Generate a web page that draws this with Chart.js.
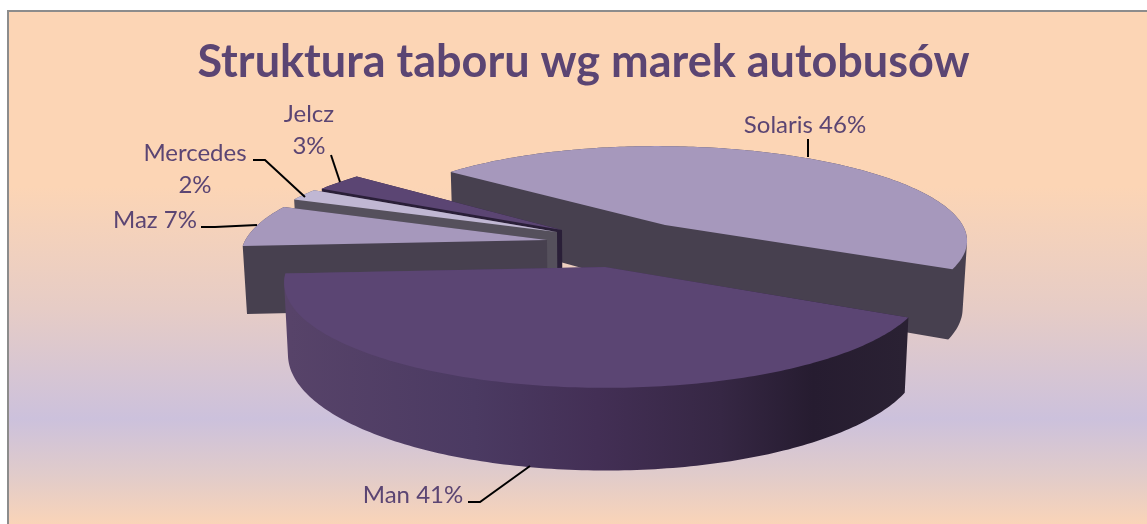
<!DOCTYPE html>
<html>
<head>
<meta charset="utf-8">
<title>Struktura taboru wg marek autobusów</title>
<style>
html, body { margin: 0; padding: 0; background: #fff; overflow: hidden; width: 1147px; height: 524px; }
#frame {
	position: absolute; left: 7px; top: 10px; width: 1160px; height: 514px;
	box-sizing: border-box; border-left: 2px solid #8c8c8c; border-top: 2px solid #8c8c8c;
	background: linear-gradient(180deg, #fcd5b5 0%, #fcd5b5 34%, #e6ccc6 58%, #ccc1dc 79.5%, #e0cbcb 90%, #f9d4b8 100%);
}
#chart { position: absolute; left: 0; top: 0; }
</style>
</head>
<body>
<div id="frame"></div>
<canvas id="chart" width="1167" height="524"></canvas>
<script src="https://cdn.jsdelivr.net/npm/chart.js@4"></script>
<script>
(function (){

var categories = ['Solaris', 'Man', 'Maz', 'Mercedes', 'Jelcz'];
var percents = [46, 41, 7, 2, 3];

var topColors = ['#a698bc', '#5b4573', '#a698bc', '#c0b7d3', '#5b4573'];
var wallColors = ['#47404f', null, '#47404f', '#55505c', '#2a1f38'];
var textColor = '#5b4573';

// projection of the pie plane, fitted by eye
var horizonY = -408;
var vanishX = 600;
var focalY = 4439;
var focalX = 2006;
var flatten = 0.96;
var depthRatio = 0.23;
var wallShrink = 0.988;

// where each exploded slice has its tip, and how big it is
var sliceTips = [[665, 225], [605, 267], [547, 240], [557, 232], [562, 230]];
var sliceRadius = [1.04, 1.04, 1.03, 1.04, 1.03];
var drawOrder = [0, 4, 3, 2, 1];

// label text rows: [x, baseline] per row, rows are broken as in the original
var labelRows = [
	[[805, 133]],
	[[413, 503]],
	[[155, 228]],
	[[195, 161], [195, 193]],
	[[309, 122], [309, 154]]
];
var leaders = [
	[[808, 157], [808, 139]],
	[[468, 502], [480, 502], [530, 466]],
	[[201, 227], [215, 227], [257, 225]],
	[[253, 160], [265, 160], [305, 197]],
	[[331, 155], [340, 182]]
];

function project(index, angle) {
	var tip = sliceTips[index];
	var r = sliceRadius[index];
	var d0 = focalY / (tip[1] - horizonY);
	var x0 = (tip[0] - vanishX) * d0 / focalX;
	var d = d0 - r * flatten * Math.sin(angle);
	return {
		x: vanishX + (x0 + r * Math.cos(angle)) * focalX / d,
		y: horizonY + focalY / d
	};
}

function tipPoint(index) {
	return { x: sliceTips[index][0], y: sliceTips[index][1] };
}

function dropPoint(p) {
	var scale = (p.y - horizonY) * focalX / focalY;
	return {
		x: vanishX + (p.x - vanishX) * wallShrink,
		y: p.y + scale * depthRatio
	};
}

function outline(index, el) {
	var pts = [tipPoint(index)];
	var steps = Math.max(4, Math.ceil((el.endAngle - el.startAngle) * 60));
	for (var i = 0; i <= steps; i++) {
		pts.push(project(index, el.startAngle + (el.endAngle - el.startAngle) * i / steps));
	}
	return pts;
}

function polyArea(q) {
	var sum = 0;
	for (var i = 0, len = q.length; i < len; i++) {
		var n = q[(i + 1) % len];
		sum += q[i].x * n.y - n.x * q[i].y;
	}
	return sum;
}

function addPoly(ctx, q) {
	if (polyArea(q) < 0) {
		q = q.slice().reverse();
	}
	ctx.moveTo(q[0].x, q[0].y);
	for (var i = 1, len = q.length; i < len; i++) {
		ctx.lineTo(q[i].x, q[i].y);
	}
	ctx.closePath();
}

// all quads go in one path with the same winding, so no seams show between them.
// the top face is in there too, or the background bleeds through along its edge
function drawWall(ctx, pts, style) {
	ctx.fillStyle = style;
	ctx.beginPath();
	addPoly(ctx, pts);
	for (var i = 0, len = pts.length; i < len; i++) {
		var a = pts[i];
		var b = pts[(i + 1) % len];
		addPoly(ctx, [a, b, dropPoint(b), dropPoint(a)]);
	}
	ctx.fill('nonzero');
}

function drawTop(ctx, pts, style) {
	ctx.fillStyle = style;
	ctx.beginPath();
	addPoly(ctx, pts);
	ctx.fill();
}

function manGradient(ctx) {
	var grad = ctx.createLinearGradient(290, 0, 905, 0);
	grad.addColorStop(0, '#574369');
	grad.addColorStop(0.3, '#4b3a62');
	grad.addColorStop(0.5, '#432f55');
	grad.addColorStop(0.7, '#362744');
	grad.addColorStop(0.85, '#261c30');
	grad.addColorStop(1, '#2a2133');
	return grad;
}

// slices keep the angles the pie controller worked out, only the picture is tilted
var tiltPlugin = {
	id: 'tilt',
	beforeDatasetDraw: function (chart) {
		var ctx = chart.ctx;
		var arcs = chart.getDatasetMeta(0).data;
		ctx.save();
		drawOrder.forEach(function (index) {
			var pts = outline(index, arcs[index]);
			drawWall(ctx, pts, wallColors[index] || manGradient(ctx));
			drawTop(ctx, pts, topColors[index]);
		});
		ctx.restore();
		return false;
	},
	afterDatasetsDraw: function (chart) {
		var ctx = chart.ctx;
		ctx.save();
		ctx.strokeStyle = '#000';
		ctx.lineWidth = 2;
		leaders.forEach(function (line) {
			ctx.beginPath();
			line.forEach(function (p, i) {
				if (i === 0) { ctx.moveTo(p[0], p[1]); } else { ctx.lineTo(p[0], p[1]); }
			});
			ctx.stroke();
		});
		ctx.fillStyle = textColor;
		ctx.font = '24px Lato';
		ctx.textAlign = 'center';
		categories.forEach(function (name, i) {
			var rows = labelRows[i];
			var text = percents[i] + '%';
			if (rows.length === 1) {
				ctx.fillText(name + ' ' + text, rows[0][0], rows[0][1]);
			} else {
				ctx.fillText(name, rows[0][0], rows[0][1]);
				ctx.fillText(text, rows[1][0], rows[1][1]);
			}
		});
		ctx.restore();
	}
};

new Chart(document.getElementById('chart'), {
	type: 'pie',
	data: {
		labels: categories,
		datasets: [{
			data: percents,
			backgroundColor: topColors,
			borderWidth: 0
		}]
	},
	options: {
		responsive: false,
		animation: false,
		rotation: 310,
		layout: { padding: { top: 35 } },
		plugins: {
			legend: { display: false },
			tooltip: { enabled: false },
			title: {
				display: true,
				text: 'Struktura taboru wg marek autobusów',
				color: textColor,
				font: { family: 'Lato', size: 45, weight: 'bold' },
				padding: 0
			}
		}
	},
	plugins: [tiltPlugin]
});

}());
</script>
</body>
</html>
